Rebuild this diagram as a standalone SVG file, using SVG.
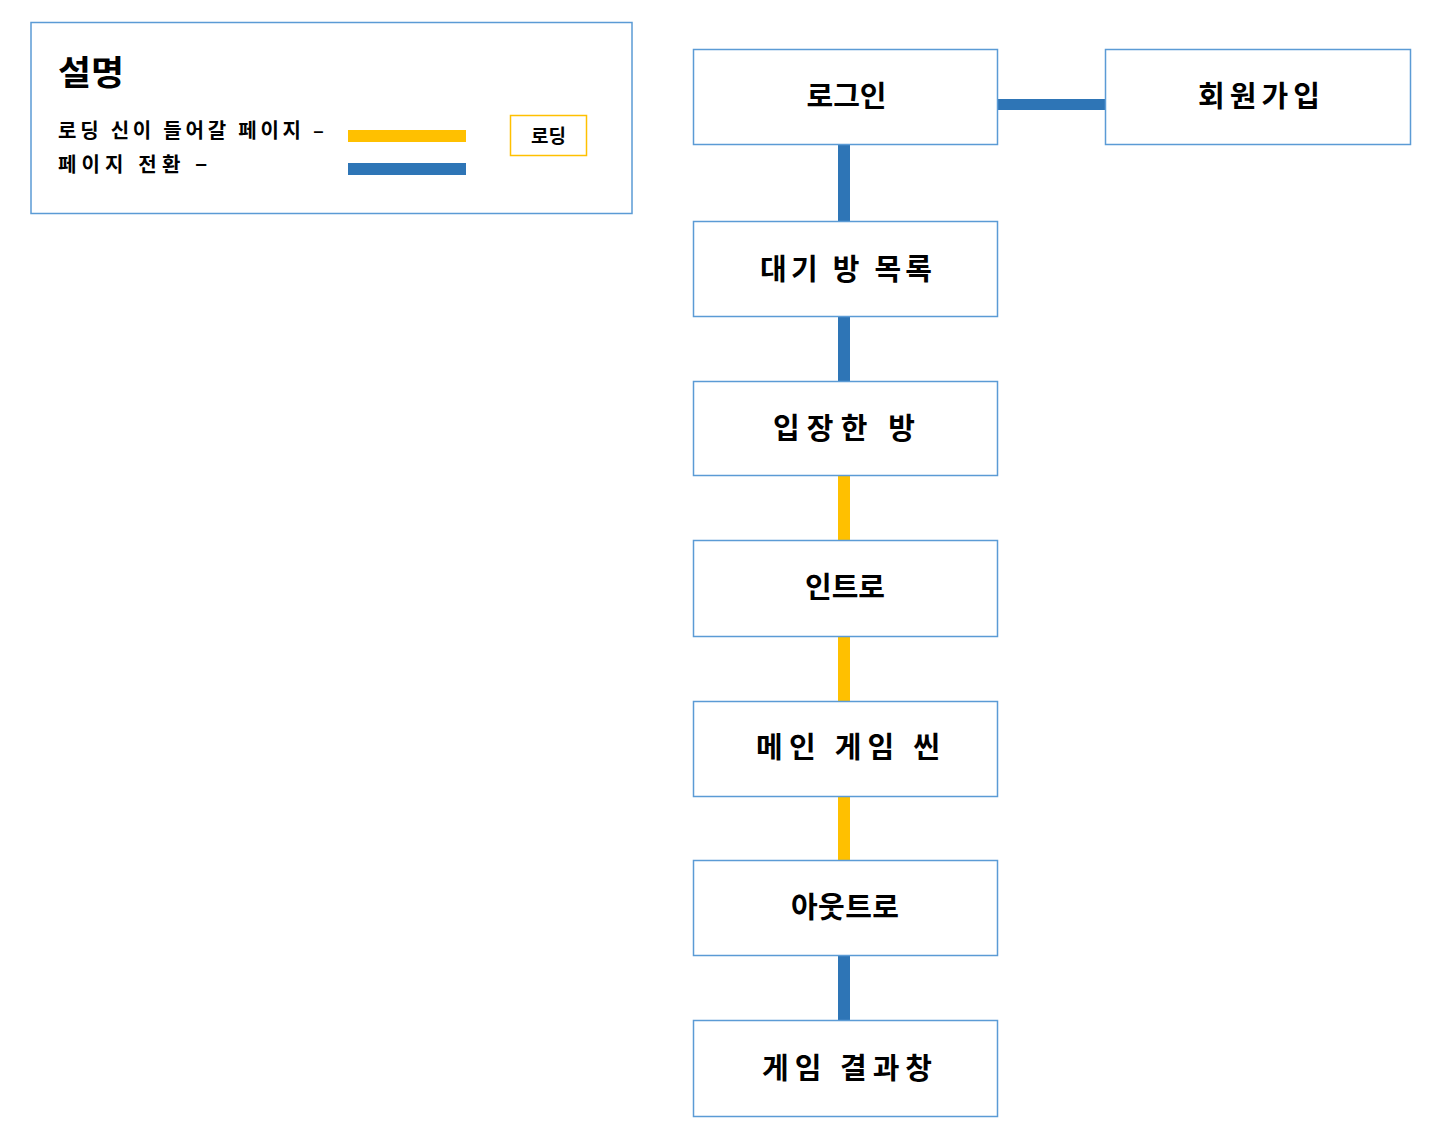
<svg xmlns="http://www.w3.org/2000/svg" width="1439" height="1125" viewBox="0 0 1439 1125">
<style>
.node{fill:#fff;stroke:#5b9bd5;stroke-width:1.5}
.lbl{font-family:"Noto Sans CJK KR","Noto Sans",sans-serif;font-size:29px;font-weight:bold;fill:#000;text-anchor:middle;dominant-baseline:central}
.leg{font-family:"Noto Sans CJK KR","Noto Sans",sans-serif;font-size:20px;font-weight:bold;fill:#000}
.blue{fill:#2e75b6}
.yellow{fill:#ffc000}
</style>
<rect width="1439" height="1125" fill="#fff"/>
<g id="legend">
<rect x="31" y="22.5" width="601" height="191" fill="#fff" stroke="#5b9bd5" stroke-width="1.5"/>
<text x="58" y="85" class="leg" style="font-size:34px" textLength="66" lengthAdjust="spacingAndGlyphs">설명</text>
<text x="58" y="138" class="leg" textLength="266" lengthAdjust="spacing">로딩 신이 들어갈 페이지 –</text>
<text x="58" y="172" class="leg" textLength="149" lengthAdjust="spacing">페이지 전환 −</text>
<rect x="348" y="130" width="118" height="12" class="yellow"/>
<rect x="348" y="163" width="118" height="12" class="blue"/>
<rect x="510.5" y="115.5" width="76" height="40" fill="#fff" stroke="#ffc000" stroke-width="1.5"/>
<text x="548.5" y="134.5" class="lbl" style="font-size:19px">로딩</text>
</g>
<g id="connectors">
<rect x="998" y="99" width="107" height="11" class="blue"/>
<rect x="838" y="145" width="12" height="76" class="blue"/>
<rect x="838" y="317" width="12" height="64" class="blue"/>
<rect x="838" y="476" width="12" height="64" class="yellow"/>
<rect x="838" y="637" width="12" height="64" class="yellow"/>
<rect x="838" y="797" width="12" height="63" class="yellow"/>
<rect x="838" y="956" width="12" height="64" class="blue"/>
</g>
<g id="n-login"><rect x="693.5" y="49.5" width="304" height="95" class="node"/><text x="846.5" y="94" class="lbl" textLength="80" lengthAdjust="spacing">로그인</text></g>
<g id="n-signup"><rect x="1105.5" y="49.5" width="305" height="95" class="node"/><text x="1259" y="94" class="lbl" textLength="122" lengthAdjust="spacing">회원가입</text></g>
<g id="n-lobby"><rect x="693.5" y="221.5" width="304" height="95" class="node"/><text x="846" y="267" class="lbl" textLength="172" lengthAdjust="spacing">대기 방 목록</text></g>
<g id="n-room"><rect x="693.5" y="381.5" width="304" height="94" class="node"/><text x="844" y="426" class="lbl" textLength="142" lengthAdjust="spacing">입장한 방</text></g>
<g id="n-intro"><rect x="693.5" y="540.5" width="304" height="96" class="node"/><text x="845" y="585" class="lbl" textLength="80" lengthAdjust="spacing">인트로</text></g>
<g id="n-main"><rect x="693.5" y="701.5" width="304" height="95" class="node"/><text x="848" y="745" class="lbl" textLength="184" lengthAdjust="spacing">메인 게임 씬</text></g>
<g id="n-outro"><rect x="693.5" y="860.5" width="304" height="95" class="node"/><text x="845" y="905" class="lbl" textLength="108" lengthAdjust="spacing">아웃트로</text></g>
<g id="n-result"><rect x="693.5" y="1020.5" width="304" height="96" class="node"/><text x="847" y="1066" class="lbl" textLength="170" lengthAdjust="spacing">게임 결과창</text></g>
</svg>
